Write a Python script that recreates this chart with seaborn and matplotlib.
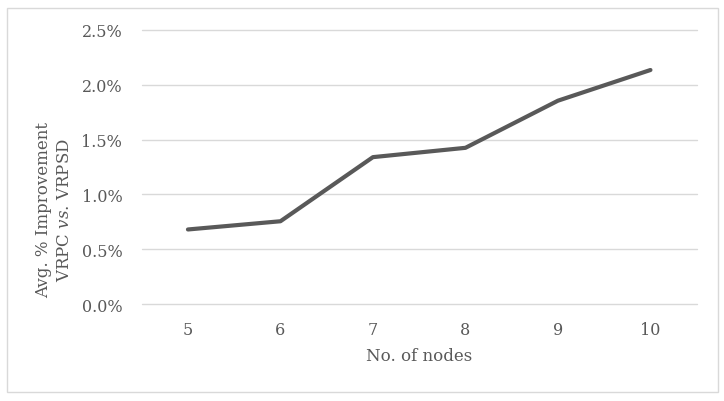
import matplotlib
matplotlib.use("Agg")
import matplotlib.pyplot as plt
import seaborn as sns
import pandas as pd
from matplotlib.ticker import PercentFormatter, MultipleLocator
from matplotlib.patches import Rectangle

nodes = ["5", "6", "7", "8", "9", "10"]
improvement = [0.68, 0.755, 1.34, 1.425, 1.855, 2.135]  # percent

sns.set_theme(style="white")
plt.rcParams["font.family"] = ["DejaVu Serif"]
plt.rcParams["mathtext.fontset"] = "custom"
plt.rcParams["mathtext.rm"] = "DejaVu Serif"
plt.rcParams["mathtext.it"] = "DejaVu Serif:italic"

TXT = "#595959"
df = pd.DataFrame({"nodes": nodes, "imp": improvement})

fig = plt.figure(figsize=(7.24, 4.02), dpi=100)
ax = fig.add_axes([141.7/724, 1-305/402, (696.7-141.7)/724, (305-31)/402])

sns.lineplot(data=df, x="nodes", y="imp", ax=ax, color="#595959", linewidth=3.0,
             sort=False)

ax.set_xlim(-0.5, 5.5)
ax.set_ylim(0, 2.5)
ax.yaxis.set_major_locator(MultipleLocator(0.5))
ax.yaxis.set_major_formatter(PercentFormatter(xmax=100, decimals=1))
ax.grid(axis="y", color="#d9d9d9", linewidth=1.0)
for gl in ax.get_ygridlines():
    gl.set_clip_on(False)
ax.set_axisbelow(True)
for s in ax.spines.values():
    s.set_visible(False)
ax.tick_params(axis="both", length=0, labelsize=11.5, labelcolor=TXT)
ax.tick_params(axis="x", pad=12)
ax.tick_params(axis="y", pad=14)
ax.set_xlabel("")
ax.set_ylabel("")

fig.text(419/724, 1-357/402, "No. of nodes", ha="center", va="center",
         fontsize=12, color=TXT)
fig.text(54/724, 1-210/402, "Avg. % Improvement\nVRPC $\\mathit{vs}$. VRPSD",
         ha="center", va="center", rotation=90, fontsize=12, color=TXT,
         multialignment="center", linespacing=1.35)

fig.patches.append(Rectangle((7/724, 1-393/402), (718-7)/724, (393-9)/402,
                             transform=fig.transFigure, fill=False,
                             edgecolor="#d9d9d9", linewidth=1.0))

fig.savefig("out.png", dpi=100, facecolor="white")
